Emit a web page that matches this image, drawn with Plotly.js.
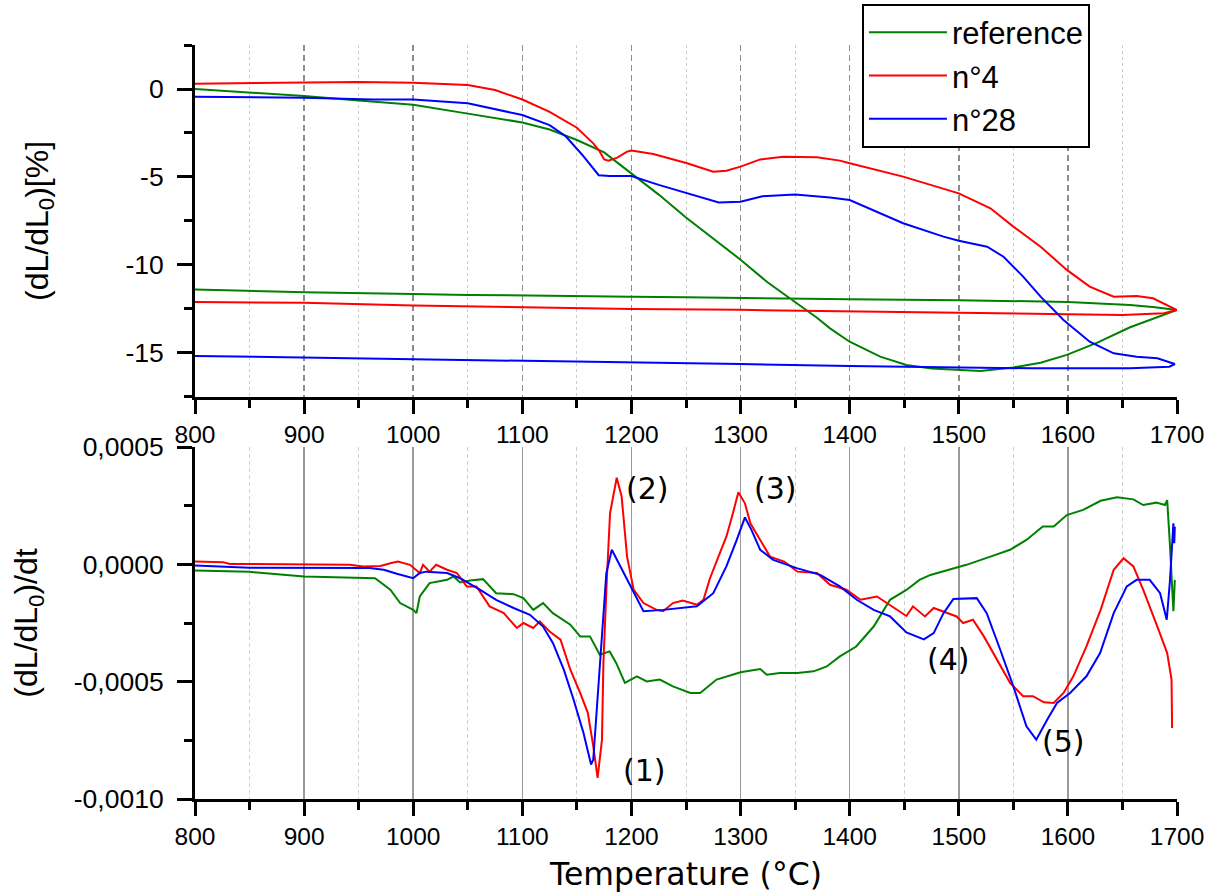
<!DOCTYPE html>
<html><head><meta charset="utf-8">
<script src="https://cdn.plot.ly/plotly-3.0.1.min.js"></script>
<style>html,body{margin:0;padding:0;background:#fff}#chart{width:1219px;height:893px}</style>
</head><body><div id="chart"></div>
<script>
// ---------- Top panel: dilatation (dL/dL0) [%] — heating then cooling ----------
const refHeatT = [800, 850, 900, 950, 1000, 1050, 1100, 1125, 1150, 1175, 1200, 1225, 1250, 1275, 1300, 1325, 1345, 1370, 1382, 1400, 1428, 1452, 1475, 1500, 1520, 1550, 1575, 1599, 1627, 1657, 1680, 1700];
const refHeatY = [0.0, -0.2, -0.4, -0.65, -0.9, -1.4, -1.9, -2.3, -2.9, -3.6, -4.8, -6.0, -7.3, -8.5, -9.7, -11.0, -11.9, -13.0, -13.6, -14.36, -15.21, -15.68, -15.88, -15.97, -16.02, -15.82, -15.55, -15.11, -14.41, -13.54, -13.0, -12.56];
const refCoolT = [1700, 1680, 1657, 1600, 1500, 1400, 1300, 1250, 1200, 1100, 1050, 1000, 900, 800];
const refCoolY = [-12.56, -12.4, -12.27, -12.1, -12.0, -11.95, -11.85, -11.83, -11.8, -11.76, -11.7, -11.65, -11.55, -11.4];

const n4HeatT = [800, 850, 900, 950, 1000, 1050, 1075, 1100, 1125, 1150, 1165, 1171, 1175, 1179, 1187, 1196, 1200, 1220, 1251, 1275, 1287, 1300, 1318, 1339, 1370, 1391, 1400, 1449, 1500, 1529, 1550, 1575, 1599, 1620, 1642, 1663, 1678, 1688, 1700];
const n4HeatY = [0.3, 0.33, 0.35, 0.4, 0.36, 0.23, -0.06, -0.6, -1.3, -2.2, -3.09, -3.56, -4.0, -4.07, -3.9, -3.56, -3.5, -3.69, -4.22, -4.7, -4.65, -4.41, -4.0, -3.85, -3.88, -4.07, -4.22, -4.98, -5.93, -6.78, -7.82, -8.96, -10.28, -11.23, -11.8, -11.76, -11.89, -12.18, -12.56];
const n4CoolT = [1700, 1688, 1650, 1600, 1500, 1400, 1300, 1200, 1100, 1000, 900, 800];
const n4CoolY = [-12.56, -12.74, -12.84, -12.8, -12.71, -12.65, -12.55, -12.5, -12.4, -12.3, -12.15, -12.1];

const n28HeatT = [800, 900, 963, 1000, 1050, 1100, 1125, 1140, 1155, 1170, 1180, 1200, 1225, 1250, 1280, 1300, 1320, 1350, 1382, 1400, 1449, 1486, 1500, 1526, 1541, 1559, 1575, 1596, 1620, 1642, 1663, 1682, 1698];
const n28HeatY = [-0.44, -0.5, -0.59, -0.6, -0.81, -1.48, -2.05, -2.7, -3.75, -4.9, -4.95, -4.95, -5.45, -5.9, -6.45, -6.4, -6.1, -6.0, -6.16, -6.31, -7.63, -8.39, -8.62, -8.96, -9.53, -10.66, -11.8, -13.13, -14.36, -15.02, -15.21, -15.3, -15.63];
const n28CoolT = [1698, 1693, 1657, 1565, 1474, 1400, 1300, 1200, 1100, 1000, 900, 800];
const n28CoolY = [-15.63, -15.78, -15.87, -15.87, -15.82, -15.74, -15.63, -15.53, -15.43, -15.35, -15.25, -15.17];

// ---------- Bottom panel: rate (dL/dL0)/dt, values in units of 1e-4 ----------
const refRateT = [800, 850, 900, 950, 965, 979, 988, 1000, 1003, 1006, 1015, 1031, 1037, 1043, 1052, 1064, 1076, 1092, 1101, 1110, 1119, 1128, 1144, 1153, 1162, 1171, 1180, 1186, 1194, 1205, 1214, 1226, 1238, 1254, 1263, 1278, 1300, 1318, 1324, 1336, 1352, 1367, 1379, 1391, 1406, 1422, 1437, 1452, 1464, 1474, 1492, 1507, 1529, 1547, 1562, 1577, 1587, 1599, 1614, 1630, 1645, 1660, 1669, 1681, 1689, 1691, 1693.6, 1696.7, 1698];
const refRate = [-0.26, -0.32, -0.52, -0.59, -0.59, -1.08, -1.65, -1.94, -2.08, -1.37, -0.80, -0.66, -0.52, -0.77, -0.69, -0.63, -1.23, -1.27, -1.44, -1.94, -1.65, -2.08, -2.57, -3.07, -3.07, -3.85, -3.71, -4.2, -5.05, -4.77, -4.99, -4.91, -5.2, -5.48, -5.48, -4.91, -4.6, -4.46, -4.70, -4.63, -4.63, -4.56, -4.35, -3.92, -3.50, -2.65, -1.51, -1.09, -0.66, -0.45, -0.21, -0.02, 0.33, 0.62, 1.04, 1.61, 1.61, 2.1, 2.32, 2.71, 2.86, 2.77, 2.53, 2.63, 2.53, 2.74, 0.76, -2.0, -0.66];

const n4RateT = [800, 826, 832, 899, 942, 954, 970, 979, 986, 997, 1004, 1006, 1009, 1015, 1021, 1031, 1040, 1049, 1058, 1070, 1083, 1095, 1101, 1110, 1116, 1125, 1135, 1144, 1153, 1160, 1165, 1169, 1173, 1174.3, 1177.4, 1180.4, 1186.5, 1191, 1196, 1202, 1211, 1223, 1229, 1238, 1247, 1260, 1266, 1272, 1281, 1287, 1293, 1298, 1304, 1309, 1318, 1327, 1340, 1352, 1370, 1382, 1397, 1410, 1425, 1434, 1446, 1452, 1458, 1469, 1477, 1489, 1498, 1504, 1513, 1523, 1535, 1547, 1559, 1568, 1578, 1587, 1596, 1605, 1617, 1630, 1642, 1651, 1660, 1669, 1682, 1691, 1695, 1695.5];
const n4Rate = [0.12, 0.09, 0.02, 0.0, -0.02, -0.09, -0.07, 0.05, 0.12, -0.02, -0.31, -0.37, -0.02, -0.31, -0.02, -0.23, -0.37, -0.94, -0.94, -1.79, -2.08, -2.71, -2.50, -2.71, -2.43, -2.86, -3.21, -4.49, -5.48, -6.33, -7.75, -9.10, -7.47, -4.2, -0.66, 2.18, 3.69, 2.89, 0.33, -1.08, -1.65, -1.94, -2.0, -1.65, -1.54, -1.72, -1.51, -0.59, 0.48, 1.18, 2.18, 3.07, 2.6, 1.75, 1.04, 0.33, 0.12, -0.31, -0.37, -0.87, -1.08, -1.51, -1.37, -1.65, -2.0, -2.2, -1.79, -2.22, -1.86, -2.08, -2.22, -2.50, -2.36, -3.07, -4.06, -5.05, -5.62, -5.62, -5.88, -5.91, -5.48, -4.77, -3.50, -1.94, -0.23, 0.26, -0.09, -1.08, -2.65, -3.78, -4.91, -6.97];

const n28RateT = [800, 850, 960, 973, 985, 1000, 1006, 1012, 1031, 1043, 1061, 1076, 1092, 1107, 1119, 1128, 1138, 1147, 1156, 1163, 1165, 1170, 1174, 1177, 1182, 1190, 1199, 1211, 1229, 1245, 1260, 1275, 1287, 1296.5, 1304, 1310, 1318, 1330, 1351.5, 1373, 1391, 1406.5, 1422, 1437, 1452, 1468, 1477, 1486, 1495, 1516.5, 1525.6, 1538, 1550, 1562, 1571, 1581, 1590, 1602, 1617, 1629.5, 1642, 1654, 1663, 1675, 1684.5, 1690.6, 1693.6, 1696.7, 1697.5, 1698];
const n28Rate = [-0.05, -0.14, -0.16, -0.23, -0.40, -0.59, -0.37, -0.31, -0.37, -0.59, -1.08, -1.51, -1.86, -2.15, -2.65, -3.35, -4.49, -5.77, -7.18, -8.53, -8.32, -4.91, -2.22, -0.37, 0.62, -0.09, -0.94, -2.0, -1.94, -1.86, -1.79, -1.23, -0.09, 1.04, 2.0, 1.47, 0.62, 0.19, -0.16, -0.45, -0.94, -1.51, -1.94, -2.22, -2.9, -3.2, -2.93, -2.08, -1.48, -1.44, -2.08, -3.64, -5.20, -6.90, -7.47, -6.62, -5.91, -5.48, -4.77, -3.78, -2.08, -0.94, -0.66, -0.66, -1.23, -2.36, -0.66, 1.75, 0.9, 1.6];

// ---------- Labels ----------
const seriesNames = ['reference', 'n°4', 'n°28'];
const seriesColors = ['#008000', '#ff0000', '#0000ff'];
const tempTicks = [800, 900, 1000, 1100, 1200, 1300, 1400, 1500, 1600, 1700];
const tempTickText = ['800', '900', '1000', '1100', '1200', '1300', '1400', '1500', '1600', '1700'];
const dilTicks = [-15, -10, -5, 0];
const dilTickText = ['-15', '-10', '-5', '0'];
const dilMinor = [-17.5, -12.5, -7.5, -2.5, 2.5];
const rateTicks = [-0.001, -0.0005, 0, 0.0005];
const rateTickText = ['-0,0010', '-0,0005', '0,0000', '0,0005'];
const rateMinor = [-0.00075, -0.00025, 0.00025];
const peakLabels = ['(1)', '(2)', '(3)', '(4)', '(5)'];
const peakT = [1212, 1215, 1332, 1491, 1596];
const peakV = [-0.00088, 0.000325, 0.000325, -0.000406, -0.000754];

const toRate = a => a.map(v => v * 1e-4);

const topSets = [[refHeatT, refHeatY, refCoolT, refCoolY], [n4HeatT, n4HeatY, n4CoolT, n4CoolY], [n28HeatT, n28HeatY, n28CoolT, n28CoolY]];
const rateSets = [[refRateT, refRate], [n4RateT, n4Rate], [n28RateT, n28Rate]];

const traces = [];
topSets.forEach((s, i) => {
  traces.push({
    type: 'scatter', mode: 'lines', name: seriesNames[i], legendgroup: seriesNames[i],
    x: s[0].concat(s[2]), y: s[1].concat(s[3]),
    xaxis: 'x2', yaxis: 'y2', line: {color: seriesColors[i], width: 2}
  });
});
rateSets.forEach((s, i) => {
  traces.push({
    type: 'scatter', mode: 'lines', name: seriesNames[i], legendgroup: seriesNames[i], showlegend: false,
    x: s[0], y: toRate(s[1]),
    xaxis: 'x', yaxis: 'y', line: {color: seriesColors[i], width: 2}
  });
});

const xTickFont = {family: 'Liberation Sans, Arial, sans-serif', size: 24.5, color: 'black'};
const yTickFont = {family: 'Liberation Sans, Arial, sans-serif', size: 26.5, color: 'black'};
const axBase = {
  showline: true, linewidth: 3, linecolor: 'black', zeroline: false,
  ticks: 'outside', tickwidth: 3, tickcolor: 'black'
};

const layout = {
  width: 1219, height: 893,
  margin: {l: 195, r: 42, t: 45, b: 94, autoexpand: false},
  paper_bgcolor: 'white', plot_bgcolor: 'white',
  showlegend: true,
  legend: {
    xref: 'container', yref: 'container',
    x: 0.7071, y: 0.996, xanchor: 'left', yanchor: 'top',
    bgcolor: 'white', bordercolor: 'black', borderwidth: 2,
    font: {family: 'Liberation Sans, Arial, sans-serif', size: 31, color: 'black'},
    itemwidth: 78, tracegroupgap: 0
  },
  xaxis: Object.assign({}, axBase, {
    domain: [0, 1], anchor: 'y', range: [800, 1700],
    tickmode: 'array', tickvals: tempTicks, ticktext: tempTickText, ticklen: 14,
    tickfont: xTickFont, ticklabelstandoff: 0,
    showgrid: true, gridcolor: '#9a9a9a', gridwidth: 1.5,
    minor: {tickmode: 'linear', tick0: 850, dtick: 100, ticks: 'outside', ticklen: 8, tickwidth: 3, tickcolor: 'black',
            showgrid: true, gridcolor: '#d0d0d0', gridwidth: 1, griddash: '4px,3px'},
    title: {text: 'Temperature (°C)', font: {family: 'DejaVu Sans, sans-serif', size: 31.5, color: 'black'}, standoff: 14}
  }),
  yaxis: Object.assign({}, axBase, {
    domain: [0, 0.4668], anchor: 'x', range: [-0.001, 0.0005],
    tickmode: 'array', tickvals: rateTicks, ticktext: rateTickText, ticklen: 15,
    tickfont: yTickFont, ticklabelstandoff: 8,
    showgrid: false,
    minor: {tickmode: 'array', tickvals: rateMinor, ticks: 'outside', ticklen: 8, tickwidth: 3, tickcolor: 'black', showgrid: false},
    title: {text: '(dL/dL<sub>0</sub>)/dt', font: {family: 'Liberation Sans, Arial, sans-serif', size: 32, color: 'black'}, standoff: 27}
  }),
  xaxis2: Object.assign({}, axBase, {
    domain: [0, 1], anchor: 'y2', range: [800, 1700],
    tickmode: 'array', tickvals: tempTicks, ticktext: tempTickText, ticklen: 14,
    tickfont: xTickFont, ticklabelstandoff: 0,
    showgrid: true, gridcolor: '#8c8c8c', gridwidth: 1.5, griddash: '6px,4px',
    minor: {tickmode: 'linear', tick0: 850, dtick: 100, ticks: 'outside', ticklen: 8, tickwidth: 3, tickcolor: 'black',
            showgrid: true, gridcolor: '#cccccc', gridwidth: 1, griddash: 'dot'}
  }),
  yaxis2: Object.assign({}, axBase, {
    domain: [0.5332, 1], anchor: 'x2', range: [-17.5, 2.5],
    tickmode: 'array', tickvals: dilTicks, ticktext: dilTickText, ticklen: 15,
    tickfont: yTickFont, ticklabelstandoff: 8,
    showgrid: false,
    minor: {tickmode: 'array', tickvals: dilMinor, ticks: 'outside', ticklen: 8, tickwidth: 3, tickcolor: 'black', showgrid: false},
    title: {text: '(dL/dL<sub>0</sub>)[%]', font: {family: 'Liberation Sans, Arial, sans-serif', size: 32, color: 'black'}, standoff: 68}
  }),
  annotations: peakLabels.map((t, i) => ({
    text: t, x: peakT[i], y: peakV[i], xref: 'x', yref: 'y', showarrow: false,
    font: {family: 'DejaVu Sans, sans-serif', size: 30, color: 'black'}
  }))
};

Plotly.newPlot('chart', traces, layout, {displayModeBar: false, staticPlot: true});
</script></body></html>
